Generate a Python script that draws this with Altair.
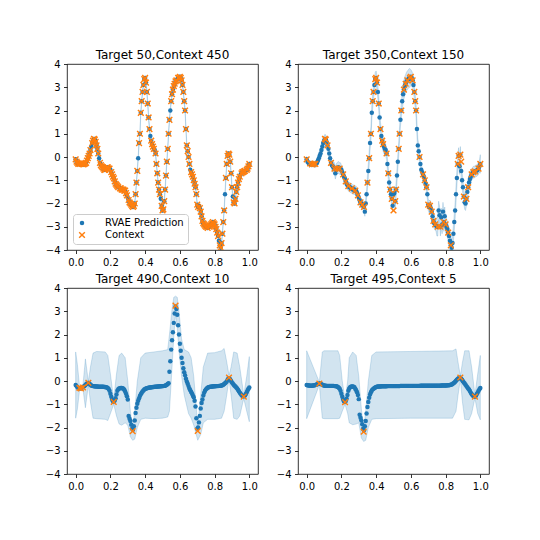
import altair as alt
import pandas as pd

BLUE = "#1f77b4"
ORANGE = "#ff7f0e"
X_SHAPE = "M-1,-0.7L-0.7,-1L0,-0.3L0.7,-1L1,-0.7L0.3,0L1,0.7L0.7,1L0,0.3L-0.7,1L-1,0.7L-0.3,0Z"
SERIES = ["RVAE Prediction", "Context"]

titles = ["Target 50,Context 450", "Target 350,Context 150",
          "Target 490,Context 10", "Target 495,Context 5"]
x_ticks = [0.0, 0.2, 0.4, 0.6, 0.8, 1.0]
y_ticks = [-4, -3, -2, -1, 0, 1, 2, 3, 4]

# sampling grid of the target function (x from 0 to 1)
x_grid = [i / 200 for i in range(201)]

# underlying signal
y_true = [
    -0.10, -0.20, -0.25, -0.30, -0.28, -0.30, -0.32, -0.30, -0.30, -0.32,
    -0.30, -0.28, -0.25, -0.15, -0.05, 0.05, 0.15, 0.30, 0.45, 0.60,
    0.70, 0.78, 0.75, 0.65, 0.50, 0.35, 0.15, -0.05, -0.25, -0.35,
    -0.40, -0.45, -0.50, -0.55, -0.55, -0.50, -0.45, -0.45, -0.50, -0.50,
    -0.55, -0.65, -0.75, -0.85, -0.92, -1.05, -1.15, -1.20, -1.25, -1.30,
    -1.30, -1.35, -1.35, -1.40, -1.40, -1.40, -1.45, -1.45, -1.55, -1.65,
    -1.75, -1.85, -1.95, -2.00, -2.05, -2.10, -2.15, -2.10, -2.00, -1.60,
    -1.10, -0.60, -0.05, 0.60, 1.00, 1.90, 2.40, 2.80, 3.10, 3.35,
    3.40, 3.20, 2.80, 2.30, 1.70, 1.20, 0.90, 0.70, 0.55, 0.45,
    0.35, 0.30, 0.15, -0.30, -0.70, -1.10, -1.40, -1.60, -1.80, -2.10,
    -2.30, -2.25, -1.90, -1.40, -0.80, -0.20, 0.35, 1.00, 1.60, 2.00,
    2.40, 2.70, 2.90, 3.05, 3.15, 3.25, 3.30, 3.35, 3.40, 3.40,
    3.45, 3.40, 3.30, 3.10, 2.80, 2.40, 2.00, 1.20, 0.50, 0.25,
    0.00, -0.30, -0.55, -0.65, -0.75, -0.85, -1.00, -1.15, -1.30, -1.60,
    -2.05, -2.15, -2.10, -2.20, -2.35, -2.55, -2.75, -2.85, -2.90, -2.95,
    -3.00, -3.00, -3.05, -3.00, -3.00, -2.95, -2.90, -2.85, -2.80, -2.85,
    -2.90, -3.00, -3.10, -3.25, -3.40, -3.60, -3.80, -3.90, -3.70, -3.30,
    -2.80, -2.30, -1.60, -0.90, -0.30, 0.05, 0.15, 0.10, -0.20, -0.70,
    -1.30, -1.70, -1.95, -2.00, -1.80, -1.50, -1.30, -1.10, -0.95, -0.85,
    -0.75, -0.70, -0.65, -0.65, -0.62, -0.60, -0.58, -0.55, -0.50, -0.40,
    -0.30,
]

# panel 1: the target points (all other grid points are context)
targets1 = [0.03, 0.09, 0.135, 0.2, 0.25, 0.3, 0.36, 0.43, 0.455, 0.49,
            0.545, 0.585, 0.66, 0.71, 0.765, 0.825, 0.86, 0.905, 0.95, 0.98]
band1_half = 0.1

# panel 2: context points and prediction departures from the signal
ctx2_x = [0.0, 0.02, 0.03, 0.04, 0.05, 0.105, 0.11, 0.12, 0.14, 0.16,
          0.175, 0.19, 0.21, 0.225, 0.24, 0.26, 0.28, 0.295, 0.31, 0.32,
          0.33, 0.35, 0.36, 0.37, 0.38, 0.385, 0.395, 0.4, 0.405, 0.415,
          0.425, 0.435, 0.44, 0.46, 0.47, 0.48, 0.49, 0.5, 0.51, 0.515,
          0.53, 0.535, 0.545, 0.56, 0.57, 0.58, 0.595, 0.6, 0.61, 0.62,
          0.625, 0.63, 0.65, 0.67, 0.68, 0.69, 0.7, 0.71, 0.72, 0.73,
          0.74, 0.755, 0.77, 0.79, 0.8, 0.815, 0.83, 0.87, 0.875, 0.885,
          0.89, 0.905, 0.92, 0.93, 0.95, 0.96, 0.97, 0.99, 1.0]
pred2_changes = {0.165: -0.70, 0.335: -2.35, 0.5: -1.60, 0.505: -1.55,
                 0.76: -2.30, 0.765: -2.50, 0.775: -2.60, 0.785: -2.35,
                 0.795: -2.55, 0.88: -0.40, 0.89: -0.60, 0.895: -1.00}
# band half-width per 0.05-wide bin (last entry for x = 1.0)
band2_half = [0.12, 0.15, 0.20, 0.25, 0.20, 0.20, 0.20, 0.30, 0.30, 0.25,
              0.30, 0.40, 0.30, 0.20, 0.25, 0.40, 0.35, 0.35, 0.30, 0.25, 0.40]

# panel 3
pred3 = [
    -0.17, -0.22, -0.27, -0.30, -0.31, -0.31, -0.31, -0.29, -0.27, -0.25,
    -0.22, -0.18, -0.14, -0.11, -0.09, -0.09, -0.12, -0.16, -0.19, -0.21,
    -0.22,
    -0.23, -0.23, -0.24, -0.24, -0.24, -0.25, -0.25, -0.25, -0.25, -0.25,
    -0.25, -0.25, -0.26, -0.26, -0.27, -0.28,
    -0.30, -0.34, -0.42, -0.55, -0.68, -0.80, -0.87, -0.88, -0.84, -0.74,
    -0.58, -0.42, -0.35, -0.32, -0.31, -0.30, -0.30, -0.31, -0.33, -0.38,
    -0.45, -0.55, -0.66, -0.80, -1.50, -1.62, -1.72, -1.88, -2.05, -2.10,
    -1.95, -1.70, -1.38, -1.15, -0.98, -0.85, -0.74, -0.64, -0.57, -0.50,
    -0.45, -0.41, -0.37, -0.34, -0.32, -0.31,
    -0.30, -0.29, -0.28, -0.28, -0.27, -0.27, -0.26, -0.26, -0.25, -0.25,
    -0.25, -0.24, -0.24, -0.24, -0.23, -0.23, -0.23, -0.22, -0.22, -0.21,
    -0.20, -0.18,
    -0.16, -0.13, -0.10, 0.40, 0.85, 1.35, 1.75, 2.10, 2.50, 2.90,
    3.20, 3.10, 2.85, 2.40, 2.00, 1.60, 1.30, 1.00, 0.77, 0.55,
    0.38, 0.25, 0.10, -0.02, -0.12, -0.22, -0.32, -0.40, -0.47, -0.54,
    -0.62, -0.70, -0.85, -1.10, -1.60, -2.05, -2.00, -1.78, -1.50, -1.18,
    -0.95, -0.80, -0.62, -0.50, -0.42, -0.36, -0.32, -0.29,
    -0.27, -0.26, -0.25, -0.25, -0.24, -0.24, -0.23, -0.23, -0.23, -0.22,
    -0.22, -0.22, -0.21, -0.21, -0.20, -0.19, -0.18, -0.16,
    -0.13, -0.10, -0.06, -0.02, 0.05, 0.12, 0.12, 0.06, 0.00, -0.06,
    -0.11, -0.16, -0.20, -0.24, -0.28, -0.32, -0.38, -0.44, -0.50, -0.55,
    -0.60, -0.64, -0.66, -0.66, -0.62, -0.56, -0.48, -0.40, -0.33, -0.28,
]
ctx3_x = [0.022, 0.03, 0.042, 0.073, 0.219, 0.328, 0.575, 0.703, 0.883, 0.968]
ctx3_y = [-0.30, -0.32, -0.28, -0.08, -0.90, -2.16, 3.24, -2.15, 0.15, -0.67]
band3_x = [0.0, 0.01, 0.022, 0.03, 0.042, 0.056, 0.073, 0.085, 0.1, 0.12,
           0.17, 0.185, 0.2, 0.219, 0.235, 0.25, 0.265, 0.285, 0.3, 0.315,
           0.328, 0.34, 0.355, 0.375, 0.4, 0.45, 0.5, 0.53, 0.54, 0.555,
           0.565, 0.575, 0.585, 0.595, 0.61, 0.625, 0.65, 0.665, 0.68, 0.703,
           0.72, 0.735, 0.76, 0.8, 0.84, 0.855, 0.868, 0.883, 0.895, 0.91,
           0.93, 0.945, 0.968, 0.985, 1.0]
band3_hi = [1.25, 0.70, -0.20, -0.22, -0.17, 0.95, -0.02, 0.60, 1.20, 1.27,
            1.25, 1.10, 0.30, -0.80, 0.30, 1.10, 1.20, 1.00, 0.00, -1.30,
            -2.00, -1.30, 0.00, 1.00, 1.20, 1.25, 1.30, 1.35, 2.00, 3.10,
            3.60, 3.65, 3.60, 3.00, 1.80, 1.35, 1.25, 1.00, 0.20, -1.95,
            -0.60, 0.60, 1.20, 1.22, 1.30, 1.40, 0.90, 0.25, 0.60, 1.25,
            1.20, 0.60, -0.60, 0.20, 1.05]
band3_lo = [-1.60, -1.20, -0.42, -0.40, -0.35, -1.15, -0.18, -0.90, -1.60, -1.62,
            -1.65, -1.70, -1.40, -1.00, -1.50, -1.85, -1.90, -1.80, -1.90, -2.40,
            -2.55, -2.50, -2.00, -1.65, -1.60, -1.62, -1.60, -1.55, -1.30, 0.60,
            1.90, 2.90, 2.30, 1.30, 0.20, -0.60, -1.40, -1.60, -1.90, -2.55,
            -2.30, -1.80, -1.65, -1.65, -1.60, -1.30, -0.70, 0.05, -0.60, -1.60,
            -1.65, -1.50, -0.75, -1.30, -1.75]

# panel 4
pred4 = [
    -0.17,
    -0.18, -0.19, -0.19, -0.20, -0.20, -0.20, -0.19, -0.19, -0.18, -0.17,
    -0.16, -0.14, -0.13,
    -0.12, -0.11, -0.12, -0.14, -0.16, -0.18, -0.19,
    -0.20, -0.20, -0.21, -0.21, -0.21, -0.21, -0.21, -0.21, -0.21, -0.21,
    -0.21, -0.22, -0.22, -0.23, -0.24, -0.26,
    -0.29, -0.33, -0.42, -0.55, -0.68, -0.80, -0.88, -0.90, -0.86, -0.76,
    -0.60, -0.42, -0.32, -0.27, -0.25, -0.24, -0.24, -0.25, -0.27, -0.33,
    -0.40, -0.48, -0.60, -0.78, -1.45, -1.58, -1.70, -1.86, -2.05, -2.12,
    -1.95, -1.72, -1.40, -1.12, -0.90, -0.72, -0.58, -0.48, -0.41, -0.36,
    -0.33, -0.30, -0.28, -0.26, -0.25, -0.24,
    -0.24, -0.24, -0.24, -0.23, -0.23, -0.23, -0.23, -0.23, -0.23, -0.23,
    -0.22, -0.22, -0.22, -0.22, -0.22, -0.22, -0.22, -0.22,
    -0.22, -0.22, -0.22, -0.22, -0.22, -0.22, -0.22, -0.21, -0.21, -0.21,
    -0.21, -0.21, -0.21, -0.21, -0.21, -0.21, -0.21, -0.21, -0.21, -0.21,
    -0.21, -0.21, -0.21, -0.21, -0.21, -0.21, -0.21, -0.21, -0.21, -0.21,
    -0.20, -0.20, -0.20, -0.20, -0.20, -0.20, -0.20, -0.20, -0.20, -0.20,
    -0.20, -0.20, -0.20, -0.20, -0.20, -0.20, -0.20, -0.20, -0.20, -0.20,
    -0.20, -0.20, -0.20, -0.20, -0.19, -0.19, -0.19, -0.19, -0.19, -0.19,
    -0.19, -0.18, -0.18, -0.18, -0.17, -0.16,
    -0.15, -0.13, -0.10, -0.07, -0.03, 0.01, 0.05, 0.09, 0.12, 0.14,
    0.14, 0.10, 0.05, -0.01, -0.06, -0.11, -0.16, -0.22, -0.27, -0.32,
    -0.37, -0.43, -0.50, -0.56, -0.61, -0.65, -0.67, -0.67, -0.63, -0.56,
    -0.49, -0.42, -0.35, -0.30,
]
ctx4_x = [0.073, 0.221, 0.328, 0.885, 0.969]
ctx4_y = [-0.11, -0.91, -2.18, 0.15, -0.67]
band4_x = [0.0, 0.073, 0.09, 0.1, 0.18, 0.19, 0.205, 0.221, 0.236, 0.245,
           0.265, 0.285, 0.3, 0.315, 0.328, 0.34, 0.355, 0.375, 0.4, 0.6,
           0.84, 0.86, 0.872, 0.885, 0.897, 0.91, 0.935, 0.95, 0.969, 0.985, 1.0]
band4_hi = [1.30, -0.05, 1.25, 1.30, 1.30, 1.10, 0.00, -0.82, 0.00, 1.00,
            1.25, 1.10, 0.20, -1.20, -2.05, -1.30, 0.00, 1.10, 1.25, 1.27,
            1.30, 1.38, 0.80, 0.22, 0.80, 1.30, 1.30, 0.60, -0.60, 0.30, 1.10]
band4_lo = [-1.62, -0.17, -1.60, -1.62, -1.62, -1.60, -1.30, -1.00, -1.40, -1.80,
            -1.88, -1.85, -1.80, -2.45, -2.60, -2.55, -2.00, -1.65, -1.62, -1.60,
            -1.60, -1.30, -0.60, 0.08, -0.90, -1.65, -1.67, -1.40, -0.74, -1.40, -1.67]

assert len(y_true) == 201 and len(pred3) == 201 and len(pred4) == 201

key = [round(v, 3) for v in x_grid]
index_of = {k: i for i, k in enumerate(key)}

# ---- tables ----
df1 = pd.DataFrame({"x": x_grid, "pred": y_true})
df1["lo"] = df1["pred"] - band1_half
df1["hi"] = df1["pred"] + band1_half
df1["series"] = SERIES[0]
t1 = {index_of[round(v, 3)] for v in targets1}
ctx1 = pd.DataFrame({"x": [x_grid[i] for i in range(201) if i not in t1],
                     "y": [y_true[i] for i in range(201) if i not in t1]})
ctx1["series"] = SERIES[1]

pred2 = list(y_true)
for k, v in pred2_changes.items():
    pred2[index_of[round(k, 3)]] = v
half2 = [band2_half[int(round(v * 1000)) // 50] for v in x_grid]
df2 = pd.DataFrame({"x": x_grid, "pred": pred2,
                    "lo": [p - h for p, h in zip(pred2, half2)],
                    "hi": [p + h for p, h in zip(pred2, half2)]})
ctx2 = pd.DataFrame({"x": ctx2_x, "y": [y_true[index_of[round(v, 3)]] for v in ctx2_x]})

df3 = pd.DataFrame({"x": x_grid, "pred": pred3})
band3 = pd.DataFrame({"x": band3_x, "lo": band3_lo, "hi": band3_hi})
ctx3 = pd.DataFrame({"x": ctx3_x, "y": ctx3_y})

df4 = pd.DataFrame({"x": x_grid, "pred": pred4})
band4 = pd.DataFrame({"x": band4_x, "lo": band4_lo, "hi": band4_hi})
ctx4 = pd.DataFrame({"x": ctx4_x, "y": ctx4_y})

# ---- chart ----
xs = alt.Scale(domain=[-0.05, 1.05], nice=False, zero=False)
ys = alt.Scale(domain=[-4, 4], nice=False, zero=False)
xaxis = alt.Axis(values=x_ticks, format=".1f", title=None, labelFlush=False, labelOverlap=False)
yaxis = alt.Axis(values=y_ticks, format="d", title=None, labelFlush=False, labelOverlap=False)
W, H = 191, 186
DOT = 20
CROSS = 45


def X():
    return alt.X("x:Q", scale=xs, axis=xaxis)


def Y(field):
    return alt.Y(field, scale=ys, axis=yaxis)


def panel(title, dpred, dband, dctx, with_legend=False):
    band = alt.Chart(dband).mark_area(
        fill=BLUE, fillOpacity=0.2, stroke=BLUE, strokeOpacity=0.2, strokeWidth=1, clip=True
    ).encode(x=X(), y=Y("lo:Q"), y2="hi:Q")
    if with_legend:
        leg = alt.Legend(title=None, orient="bottom-left", offset=6, fillColor="white",
                         strokeColor="#cccccc", cornerRadius=3, padding=4,
                         labelFont="DejaVu Sans", labelFontSize=10, labelColor="black",
                         labelOffset=18, rowPadding=2, symbolStrokeWidth=0)
        enc = dict(
            color=alt.Color("series:N", scale=alt.Scale(domain=SERIES, range=[BLUE, ORANGE]), legend=leg),
            shape=alt.Shape("series:N", scale=alt.Scale(domain=SERIES, range=["circle", X_SHAPE]), legend=leg),
            size=alt.Size("series:N", scale=alt.Scale(domain=SERIES, range=[DOT, CROSS]), legend=leg),
        )
        pts = alt.Chart(dpred).mark_point(filled=True, opacity=1, clip=True).encode(
            x=X(), y=Y("pred:Q"), **enc)
        crs = alt.Chart(dctx).mark_point(filled=True, opacity=1, clip=True).encode(
            x=X(), y=Y("y:Q"), **enc)
    else:
        pts = alt.Chart(dpred).mark_point(filled=True, opacity=1, shape="circle", size=DOT,
                                          color=BLUE, clip=True).encode(x=X(), y=Y("pred:Q"))
        crs = alt.Chart(dctx).mark_point(filled=True, opacity=1, shape=X_SHAPE, size=CROSS,
                                         color=ORANGE, clip=True).encode(x=X(), y=Y("y:Q"))
    return alt.layer(band, pts, crs).properties(title=title, width=W, height=H)


p1 = panel(titles[0], df1, df1, ctx1, with_legend=True)
p2 = panel(titles[1], df2, df2, ctx2)
p3 = panel(titles[2], df3, band3, ctx3)
p4 = panel(titles[3], df4, band4, ctx4)

chart = alt.concat(p1, p2, p3, p4, columns=2, spacing={"row": 4, "column": 16}).resolve_scale(
    color="independent", shape="independent", size="independent"
).properties(
    padding={"left": 36, "top": 40, "right": 5, "bottom": 5}
).configure_view(
    stroke="black", strokeWidth=0.8
).configure_axis(
    labelFont="DejaVu Sans", labelFontSize=10, labelColor="black", tickColor="black",
    tickSize=3.5, tickWidth=0.8, labelPadding=3.5, domain=False, grid=False
).configure_title(
    font="DejaVu Sans", fontSize=12, fontWeight="normal", color="black", offset=-3
)

chart.save("out.html", embed_options={"renderer": "svg", "actions": False})
